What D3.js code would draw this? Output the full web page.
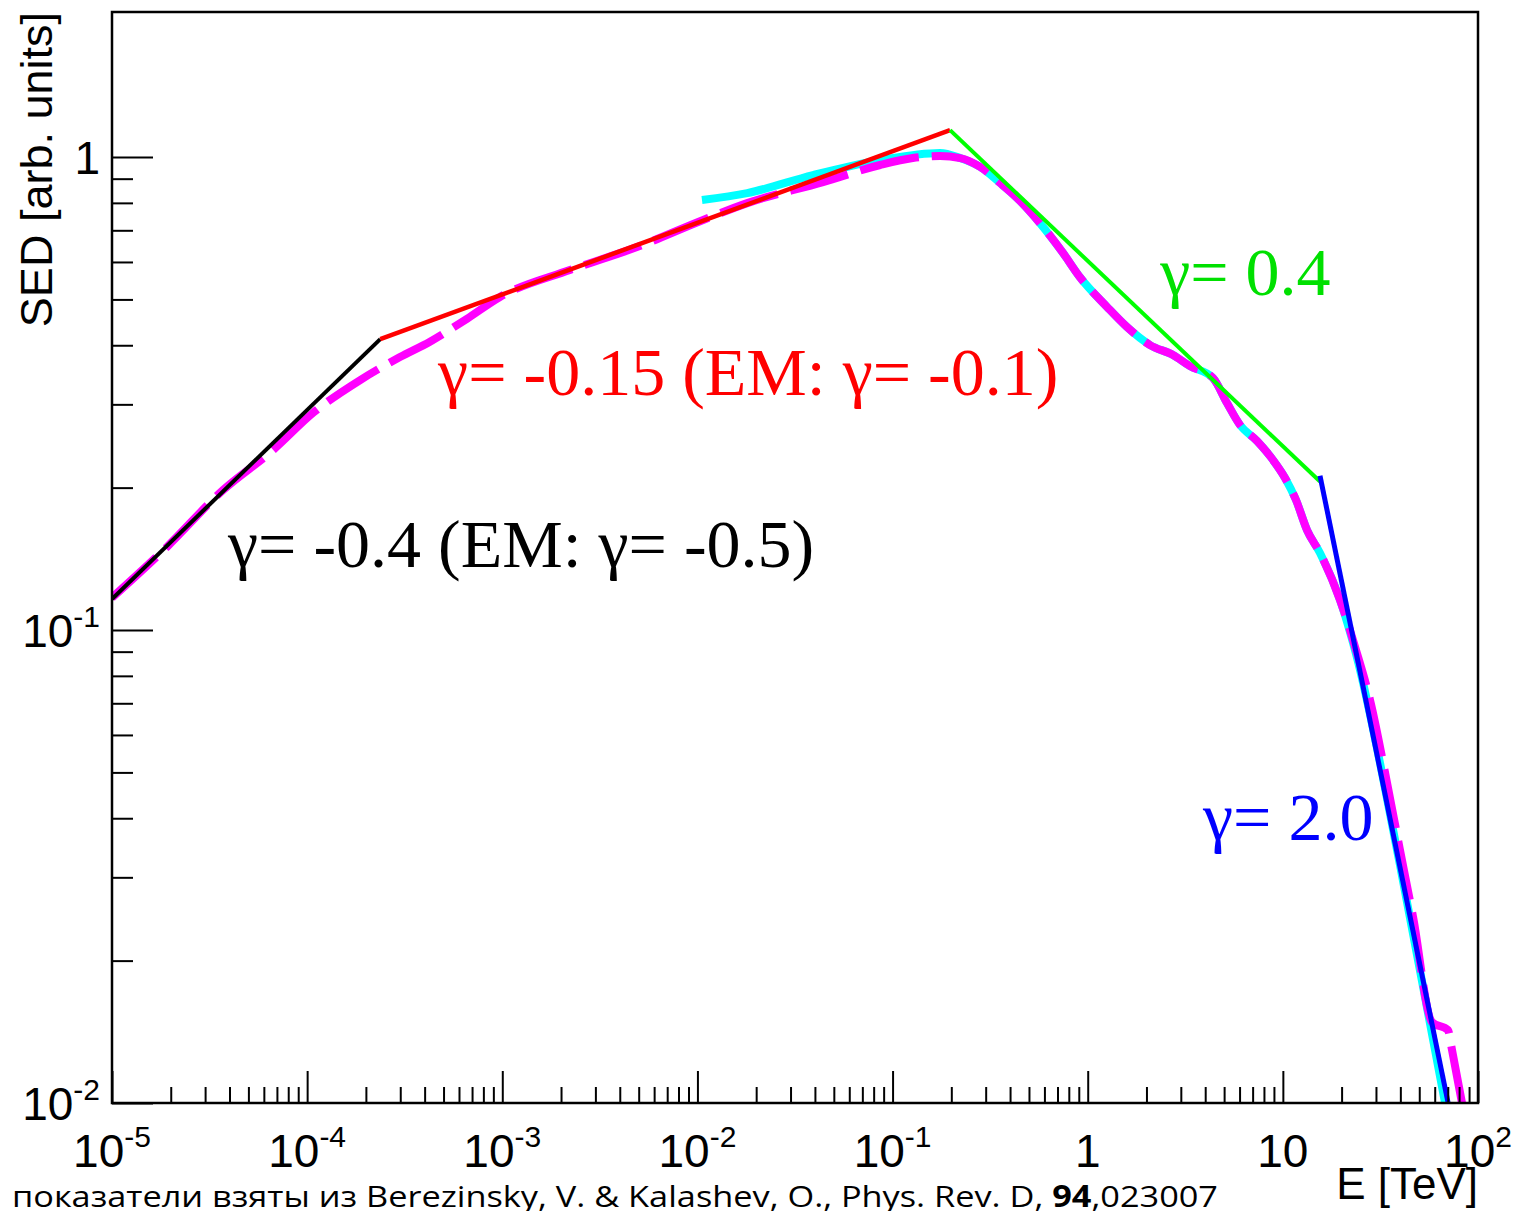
<!DOCTYPE html>
<html>
<head>
<meta charset="utf-8">
<script src="https://cdn.jsdelivr.net/npm/d3@7"></script>
<style>
  body { margin: 0; background: #fff; }
  svg { display: block; }
</style>
</head>
<body>
<svg id="chart"></svg>
<script>
// ---- data (E in TeV, SED in arb. units) ----
const magentaE = [1e-5, 1.91e-5, 3.71e-5, 6.68e-5, 1.07e-4, 1.87e-4, 2.99e-4, 4.26e-4, 6.59e-4, 9.73e-4,
  2.22e-3, 4.90e-3, 1.07e-2, 1.80e-2, 0.044, 0.0863, 0.127, 0.175, 0.222, 0.281, 0.356, 0.435, 0.569,
  0.747, 0.913, 1.256, 1.59, 2.086, 2.736, 3.344, 4.386, 5.174, 6.033, 7.374, 8.906, 10.26, 11.68, 13.3,
  15.5, 19.63, 23.71, 27.98, 34.2, 39.8, 46.5, 58.1, 70.2, 73.6, 82.8];
const magentaS = [0.117, 0.1498, 0.1977, 0.240, 0.2876, 0.3377, 0.3777, 0.407, 0.455, 0.506,
  0.577, 0.645, 0.736, 0.799, 0.885, 0.962, 0.995, 1.005, 0.995, 0.953, 0.881, 0.819, 0.725,
  0.627, 0.557, 0.482, 0.437, 0.4004, 0.3815, 0.3614, 0.341, 0.3019, 0.2713, 0.2509, 0.2288, 0.2097, 0.1883, 0.1627,
  0.1455, 0.1157, 0.0907, 0.0711, 0.0475, 0.0343, 0.0247, 0.01483, 0.01426, 0.01294, 0.0100];

const cyanE = [0.01055, 0.018, 0.0391, 0.0863, 0.175, 0.222, 0.281, 0.356, 0.435, 0.569, 0.747, 0.913,
  1.256, 1.59, 2.086, 2.736, 3.344, 4.386, 5.174, 6.033, 7.374, 8.906, 10.26, 11.68, 13.3, 15.5, 19.63,
  23.71, 39.8, 67.8];
const cyanS = [0.811, 0.839, 0.916, 0.985, 1.02, 0.995, 0.953, 0.881, 0.819, 0.725, 0.627, 0.557,
  0.482, 0.437, 0.4004, 0.3815, 0.3614, 0.341, 0.3019, 0.2713, 0.2509, 0.2288, 0.2097, 0.1883, 0.1627, 0.1455, 0.1157,
  0.0890, 0.0319, 0.0100];

// power-law segments: [E0, E1], [S0, S1]
const blackE = [1e-5, 2.37e-4], blackS = [0.1163, 0.412];
const redE = [2.37e-4, 0.197], redS = [0.412, 1.14];
const greenE = [0.197, 15.5], greenS = [1.14, 0.206];
const blueE = [15.5, 80], blueS = [0.212, 0.0077];

const labels = [
  { text: "γ= -0.4 (EM: γ= -0.5)", color: "#000000", E: 3.93e-5, S: 0.136 },
  { text: "γ= -0.15 (EM: γ= -0.1)", color: "#ff0000", E: 4.69e-4, S: 0.314 },
  { text: "γ= 0.4", color: "#00e000", E: 2.35, S: 0.511 },
  { text: "γ= 2.0", color: "#0000ff", E: 3.9, S: 0.036 }
];

const xMajor = [1e-5, 1e-4, 1e-3, 1e-2, 1e-1, 1, 10, 100];
const xLabelBase = ["10", "10", "10", "10", "10", "1", "10", "10"];
const xLabelExp = ["-5", "-4", "-3", "-2", "-1", "", "", "2"];
const yMajor = [0.01, 0.1, 1];
const yLabelBase = ["10", "10", "1"];
const yLabelExp = ["-2", "-1", ""];

// ---- layout ----
const W = 1513, H = 1211;
const margin = { left: 112, right: 1478, top: 12, bottom: 1103 };

const svg = d3.select('#chart').attr('width', W).attr('height', H);

const x = d3.scaleLog().domain([1e-5, 100]).range([margin.left, margin.right]);
const y = d3.scaleLog().domain([0.01, 2.026]).range([margin.bottom, margin.top]);

svg.append('defs').append('clipPath').attr('id', 'plot')
  .append('rect').attr('x', margin.left).attr('y', margin.top)
  .attr('width', margin.right - margin.left).attr('height', margin.bottom - margin.top);

const plot = svg.append('g').attr('clip-path', 'url(#plot)');

const zip = (es, ss) => es.map((e, i) => [e, ss[i]]);
const smooth = d3.line().x(d => x(d[0])).y(d => y(d[1])).curve(d3.curveMonotoneX);
const straight = d3.line().x(d => x(d[0])).y(d => y(d[1]));

plot.append('path').attr('d', smooth(zip(cyanE, cyanS)))
  .attr('fill', 'none').attr('stroke', '#00ffff').attr('stroke-width', 8);

plot.append('path').attr('d', smooth(zip(magentaE, magentaS)))
  .attr('fill', 'none').attr('stroke', '#ff00ff').attr('stroke-width', 8)
  .attr('stroke-dasharray', '60,13');

const segs = [
  [blackE, blackS, '#000000', 4],
  [redE, redS, '#ff0000', 4.5],
  [greenE, greenS, '#00ff00', 4],
  [blueE, blueS, '#0000ff', 5]
];
segs.forEach(([es, ss, c, w]) => {
  plot.append('path').attr('d', straight(zip(es, ss)))
    .attr('fill', 'none').attr('stroke', c).attr('stroke-width', w);
});

// ---- axes ----
const xMinor = [];
for (let k = -5; k < 2; k++) for (let m = 2; m <= 9; m++) xMinor.push(m * Math.pow(10, k));
const yMinor = [];
for (let k = -2; k < 0; k++) for (let m = 2; m <= 9; m++) yMinor.push(m * Math.pow(10, k));

const styleTicks = g => {
  g.select('.domain').remove();
  g.selectAll('.tick line').attr('stroke', '#000').attr('stroke-width', 2);
};

svg.append('g').attr('transform', `translate(0,${margin.bottom})`)
  .call(d3.axisTop(x).tickValues(xMinor).tickSize(16).tickFormat(''))
  .call(styleTicks);

svg.append('g').attr('transform', `translate(0,${margin.bottom})`)
  .call(d3.axisTop(x).tickValues(xMajor).tickSize(32).tickFormat(''))
  .call(styleTicks);

svg.append('g').attr('transform', `translate(${margin.left},0)`)
  .call(d3.axisRight(y).tickValues(yMinor).tickSize(21).tickFormat(''))
  .call(styleTicks);

svg.append('g').attr('transform', `translate(${margin.left},0)`)
  .call(d3.axisRight(y).tickValues(yMajor).tickSize(41).tickFormat(''))
  .call(styleTicks);

// frame
svg.append('rect').attr('x', margin.left).attr('y', margin.top)
  .attr('width', margin.right - margin.left).attr('height', margin.bottom - margin.top)
  .attr('fill', 'none').attr('stroke', '#000').attr('stroke-width', 2.5);

// tick labels
const sans = "'Liberation Sans', Arial, Helvetica, sans-serif";
xMajor.forEach((v, i) => {
  const t = svg.append('text').attr('x', x(v)).attr('y', 1167)
    .attr('text-anchor', 'middle').attr('font-family', sans).attr('font-size', 46);
  t.append('tspan').text(xLabelBase[i]);
  if (xLabelExp[i]) t.append('tspan').attr('dy', -20).attr('font-size', 30).text(xLabelExp[i]);
});
yMajor.forEach((v, i) => {
  const t = svg.append('text').attr('x', 100).attr('y', y(v) + 17)
    .attr('text-anchor', 'end').attr('font-family', sans).attr('font-size', 46);
  t.append('tspan').text(yLabelBase[i]);
  if (yLabelExp[i]) t.append('tspan').attr('dy', -20).attr('font-size', 30).text(yLabelExp[i]);
});

// axis titles
svg.append('text').attr('transform', `translate(52,${margin.top}) rotate(-90)`)
  .attr('text-anchor', 'end').attr('font-family', sans).attr('font-size', 45)
  .text('SED [arb. units]');
svg.append('text').attr('x', margin.right).attr('y', 1199)
  .attr('text-anchor', 'end').attr('font-family', sans).attr('font-size', 44)
  .text('E [TeV]');

// annotations
const serif = "'Liberation Serif', 'Times New Roman', serif";
labels.forEach(d => {
  svg.append('text').attr('x', x(d.E)).attr('y', y(d.S))
    .attr('font-family', serif).attr('font-size', 68).attr('fill', d.color)
    .text(d.text);
});

// source note
const note = svg.append('text').attr('x', 12).attr('y', 1207)
  .attr('font-family', "'Open Sans', 'Noto Sans', sans-serif").attr('font-size', 30)
  .attr('textLength', 1206).attr('lengthAdjust', 'spacingAndGlyphs');
note.append('tspan').text('показатели взяты из Berezinsky, V. & Kalashev, O., Phys. Rev. D, ');
note.append('tspan').attr('font-weight', 'bold').text('94');
note.append('tspan').text(',023007');
</script>
</body>
</html>
